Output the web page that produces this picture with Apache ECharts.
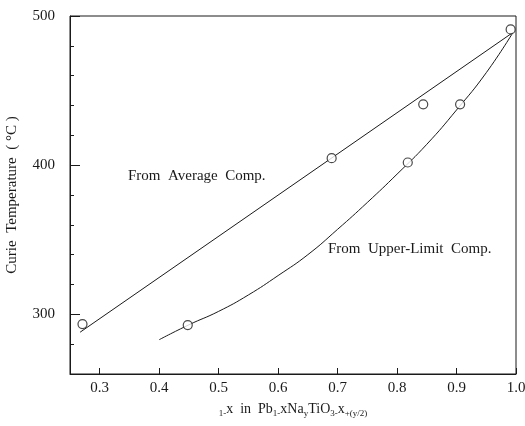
<!DOCTYPE html>
<html>
<head>
<meta charset="utf-8">
<script src="https://cdn.jsdelivr.net/npm/echarts@6/dist/echarts.min.js"></script>
<style>
html,body{margin:0;padding:0;background:#fff;}
#chart{width:525px;height:426px;}
</style>
</head>
<body>
<div id="chart"></div>
<script>
// ---- data ----
var xTicks = [0.3, 0.4, 0.5, 0.6, 0.7, 0.8, 0.9, 1.0];
var yMajorTicks = [300, 400, 500];
// measured points (open circles)
var pointsX = [0.271, 0.448, 0.690, 0.818, 0.844, 0.906, 0.991];
var pointsY = [293.5, 292.8, 404.7, 401.8, 440.8, 440.8, 491.0];
// "From Average Comp." straight line
var avgX = [0.267, 0.995];
var avgY = [288, 489];
// "From Upper-Limit Comp." curve
var upperX = [0.40, 0.45, 0.50, 0.55, 0.60, 0.65, 0.70, 0.75, 0.80, 0.85, 0.90, 0.95, 0.995];
var upperY = [283, 293, 302, 313, 326, 340, 357, 375, 394, 414, 437, 462, 489];

var FONT = '"Liberation Serif", "DejaVu Serif", serif';
var INK = '#1a1a1a';

function zip(a, b) { return a.map(function (v, i) { return [v, b[i]]; }); }

var chart = echarts.init(document.getElementById('chart'));
var option = {
  animation: false,
  backgroundColor: '#fff',
  grid: { left: 70, right: 9, top: 16, bottom: 52, containLabel: false, outerBoundsMode: 'none',
    show: true, borderColor: INK, borderWidth: 1, backgroundColor: 'transparent' },
  xAxis: {
    type: 'value', min: 0.25, max: 1.0,
    axisLine: { show: true, onZero: false, lineStyle: { color: INK, width: 1 } },
    axisTick: { show: true, inside: true, length: 6, customValues: xTicks, lineStyle: { color: INK } },
    axisLabel: { customValues: xTicks, margin: 7, color: INK, fontFamily: FONT, fontSize: 15,
      formatter: function (v) { return v.toFixed(1); } },
    splitLine: { show: false },
    name: '{s|1-}{n|x  in  Pb}{s|1-}{n|x}{n|Na}{s|y}{n|TiO}{s|3-}{n|x}{s|+(y/2)}',
    nameLocation: 'middle', nameGap: 28,
    nameTextStyle: {
      color: INK, fontFamily: FONT,
      rich: {
        n: { fontSize: 14, verticalAlign: 'top', fontFamily: FONT, color: INK },
        s: { fontSize: 9, padding: [7, 0, 0, 0], verticalAlign: 'top', fontFamily: FONT, color: INK }
      }
    }
  },
  yAxis: [{
    type: 'value', min: 260, max: 500, interval: 20,
    axisLine: { show: true, onZero: false, lineStyle: { color: INK, width: 1 } },
    axisTick: { show: true, inside: true, length: 4, lineStyle: { color: INK } },
    axisLabel: { margin: 15, color: INK, fontFamily: FONT, fontSize: 15,
      formatter: function (v) { return v % 100 === 0 ? String(v) : ''; } },
    splitLine: { show: false },
    name: 'Curie  Temperature  ( \u00B0C )', nameLocation: 'middle', nameGap: 50,
    nameTextStyle: { color: INK, fontFamily: FONT, fontSize: 15 }
  }, {
    type: 'value', min: 260, max: 500, position: 'left',
    axisLine: { show: false },
    axisTick: { show: true, inside: true, length: 10, customValues: yMajorTicks, lineStyle: { color: INK } },
    axisLabel: { show: false },
    splitLine: { show: false }
  }],
  graphic: [
    { type: 'text', left: 128, top: 169, style: { text: 'From  Average  Comp.', font: '15px ' + FONT, fill: INK } },
    { type: 'text', left: 328, top: 242, style: { text: 'From  Upper-Limit  Comp.', font: '15px ' + FONT, fill: INK } }
  ],
  series: [
    { type: 'line', data: zip(avgX, avgY), symbol: 'none', lineStyle: { color: INK, width: 1 }, z: 2 },
    { type: 'line', data: zip(upperX, upperY), smooth: true, symbol: 'none', lineStyle: { color: INK, width: 1 }, z: 2 },
    { type: 'scatter', data: zip(pointsX, pointsY), symbol: 'circle', symbolSize: 9,
      itemStyle: { color: '#fff', borderColor: INK, borderWidth: 1.2 }, z: 3 }
  ]
};
chart.setOption(option);
</script>
</body>
</html>
